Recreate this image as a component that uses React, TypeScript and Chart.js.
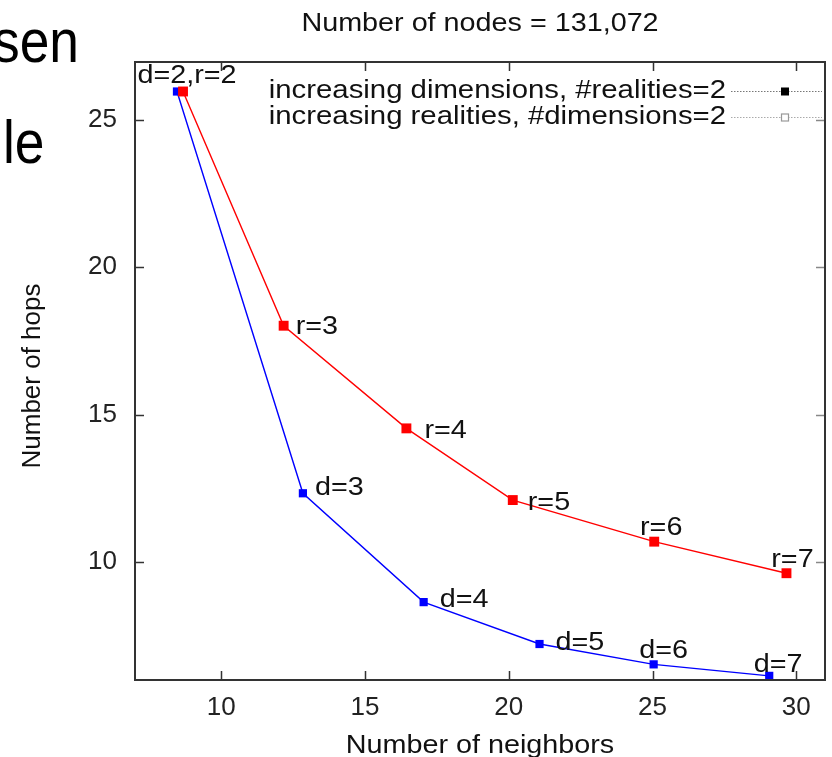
import { useEffect, useRef } from 'react';
import { Chart, registerables } from 'chart.js';

Chart.register(...registerables);

// ---- data ----
const xTicks = [10, 15, 20, 25, 30];
const yTicks = [10, 15, 20, 25];

const dimNeighbors = [8.46, 12.84, 17.04, 21.07, 25.04, 29.06];
const dimHops = [25.95, 12.33, 8.64, 7.22, 6.53, 6.14];
const dimLabels = ['', 'd=3', 'd=4', 'd=5', 'd=6', 'd=7'];

const realNeighbors = [8.67, 12.17, 16.44, 20.14, 25.06, 29.66];
const realHops = [25.95, 18.01, 14.53, 12.1, 10.69, 9.62];
const realLabels = ['d=2,r=2', 'r=3', 'r=4', 'r=5', 'r=6', 'r=7'];

const legendLabels = [
  'increasing dimensions, #realities=2',
  'increasing realities, #dimensions=2',
];
const titleText = 'Number of nodes = 131,072';
const xTitle = 'Number of neighbors';
const yTitle = 'Number of hops';
const slideWords = ['sen', 'le'];

// ---- styles (label offsets in pixels relative to the point) ----
const dimLabelPos: Array<[number, number, CanvasTextAlign] | null> = [
  null,
  [12, -5, 'left'],
  [16, -2, 'left'],
  [16, -1, 'left'],
  [10, -13, 'center'],
  [9, -11, 'center'],
];
const realLabelPos: Array<[number, number, CanvasTextAlign] | null> = [
  [4, -15, 'center'],
  [12, 1, 'left'],
  [18, 3, 'left'],
  [15, 3, 'left'],
  [7, -14, 'center'],
  [6, -13, 'center'],
];

const FONT = '"Liberation Sans", Arial, Helvetica, sans-serif';
const TXT = '#111111';
const STRETCH = 1.15;

function sText(
  ctx: CanvasRenderingContext2D,
  text: string,
  x: number,
  y: number,
  size: number,
  align: CanvasTextAlign,
  baseline: CanvasTextBaseline,
  stretch = STRETCH,
  color = TXT
) {
  ctx.save();
  ctx.font = `${size}px ${FONT}`;
  ctx.fillStyle = color;
  ctx.textAlign = align;
  ctx.textBaseline = baseline;
  ctx.translate(x, y);
  ctx.scale(stretch, 1);
  ctx.fillText(text, 0, 0);
  ctx.restore();
}

const annotPlugin = {
  id: 'annot',
  afterDatasetsDraw(chart: any) {
    const ctx: CanvasRenderingContext2D = chart.ctx;
    const { left, right, top, bottom } = chart.chartArea;
    const xs = chart.scales.x;
    const ys = chart.scales.y;

    // inward tick marks
    ctx.save();
    ctx.lineWidth = 1.5;
    xTicks.forEach((v) => {
      const px = Math.round(xs.getPixelForValue(v)) + 0.5;
      ctx.strokeStyle = '#333';
      ctx.beginPath();
      ctx.moveTo(px, bottom);
      ctx.lineTo(px, bottom - 9);
      ctx.moveTo(px, top);
      ctx.lineTo(px, top + 9);
      ctx.stroke();
    });
    yTicks.forEach((v) => {
      const py = Math.round(ys.getPixelForValue(v)) + 0.5;
      ctx.strokeStyle = '#333';
      ctx.beginPath();
      ctx.moveTo(left, py);
      ctx.lineTo(left + 9, py);
      ctx.stroke();
      ctx.strokeStyle = '#888';
      ctx.beginPath();
      ctx.moveTo(right, py);
      ctx.lineTo(right - 9, py);
      ctx.stroke();
    });
    // frame
    ctx.strokeStyle = '#333';
    ctx.lineWidth = 2;
    ctx.strokeRect(left, top, right - left, bottom - top);
    ctx.restore();
  },
  afterDraw(chart: any) {
    const ctx: CanvasRenderingContext2D = chart.ctx;
    const { left, right } = chart.chartArea;
    const cx = (left + right) / 2;

    // slide background words
    sText(ctx, slideWords[0], 79, 62, 62, 'right', 'alphabetic', 0.86, '#000');
    sText(ctx, slideWords[1], 3, 163, 62, 'left', 'alphabetic', 0.86, '#000');

    // title and axis titles
    sText(ctx, titleText, cx, 31, 25, 'center', 'alphabetic');
    sText(ctx, xTitle, cx, 753, 25, 'center', 'alphabetic');
    ctx.save();
    ctx.translate(40, 376);
    ctx.rotate(-Math.PI / 2);
    ctx.font = `26px ${FONT}`;
    ctx.fillStyle = TXT;
    ctx.textAlign = 'center';
    ctx.textBaseline = 'alphabetic';
    ctx.fillText(yTitle, 0, 0);
    ctx.restore();

    // point labels
    const sets = [
      { meta: chart.getDatasetMeta(0), labels: realLabels, pos: realLabelPos },
      { meta: chart.getDatasetMeta(1), labels: dimLabels, pos: dimLabelPos },
    ];
    sets.forEach(({ meta, labels, pos }) => {
      meta.data.forEach((pt: any, i: number) => {
        const p = pos[i];
        if (!p || !labels[i]) return;
        sText(ctx, labels[i], pt.x + p[0], pt.y + p[1], 25, p[2], 'middle');
      });
    });

    // legend
    const rows = [91, 117];
    const textRight = 726;
    const lineL = 731;
    const lineR = 822;
    const sq = 785;
    rows.forEach((ry, i) => {
      sText(ctx, legendLabels[i], textRight, ry, 25.5, 'right', 'middle');
      ctx.save();
      ctx.setLineDash([1.5, 1.5]);
      ctx.lineWidth = 1;
      ctx.strokeStyle = i === 0 ? '#777' : '#aaa';
      ctx.beginPath();
      ctx.moveTo(lineL, ry + 0.5);
      ctx.lineTo(lineR, ry + 0.5);
      ctx.stroke();
      ctx.setLineDash([]);
      if (i === 0) {
        ctx.fillStyle = '#000';
        ctx.fillRect(sq - 4, ry - 3.5, 8, 8);
      } else {
        ctx.fillStyle = '#fff';
        ctx.fillRect(sq - 4, ry - 3.5, 8, 8);
        ctx.strokeStyle = '#999';
        ctx.lineWidth = 1.2;
        ctx.strokeRect(sq - 3.5, ry - 3, 7, 7);
      }
      ctx.restore();
    });
  },
};

export default function App() {
  const ref = useRef<HTMLCanvasElement | null>(null);

  useEffect(() => {
    if (!ref.current) return;
    const chart = new Chart(ref.current, {
      type: 'line',
      data: {
        datasets: [
          {
            label: legendLabels[1],
            data: realNeighbors.map((x, i) => ({ x, y: realHops[i] })),
            borderColor: '#ff0000',
            backgroundColor: '#ff0000',
            borderWidth: 1.4,
            pointStyle: 'rect',
            pointRadius: 7,
            pointBorderWidth: 0,
            order: 0,
          },
          {
            label: legendLabels[0],
            data: dimNeighbors.map((x, i) => ({ x, y: dimHops[i] })),
            borderColor: '#0000ff',
            backgroundColor: '#0000ff',
            borderWidth: 1.4,
            pointStyle: 'rect',
            pointRadius: 5.8,
            pointBorderWidth: 0,
            order: 1,
          },
        ],
      },
      options: {
        responsive: false,
        animation: false,
        devicePixelRatio: 1,
        layout: { padding: { top: 62, right: 6, left: 0, bottom: 0 } },
        plugins: {
          legend: { display: false },
          title: { display: false },
          tooltip: { enabled: false },
        },
        scales: {
          x: {
            type: 'linear',
            min: 7,
            max: 31,
            grid: { display: false, drawTicks: false },
            border: { display: false },
            afterBuildTicks: (s: any) => {
              s.ticks = xTicks.map((v) => ({ value: v }));
            },
            afterFit: (s: any) => {
              s.height = 77;
            },
            ticks: {
              padding: 12,
              color: '#222',
              font: { family: FONT, size: 26 },
              maxRotation: 0,
              autoSkip: false,
            },
          },
          y: {
            type: 'linear',
            min: 6,
            max: 26.95,
            grid: { display: false, drawTicks: false },
            border: { display: false },
            afterBuildTicks: (s: any) => {
              s.ticks = yTicks.map((v) => ({ value: v }));
            },
            afterFit: (s: any) => {
              s.width = 135;
            },
            ticks: {
              padding: 18,
              color: '#222',
              font: { family: FONT, size: 26 },
              autoSkip: false,
            },
          },
        },
      },
      plugins: [annotPlugin],
    } as any);
    return () => chart.destroy();
  }, []);

  return (
    <div
      style={{
        position: 'absolute',
        left: 0,
        top: 0,
        width: 832,
        height: 757,
        background: '#fff',
      }}
    >
      <canvas ref={ref} width={832} height={757} style={{ display: 'block' }} />
    </div>
  );
}
